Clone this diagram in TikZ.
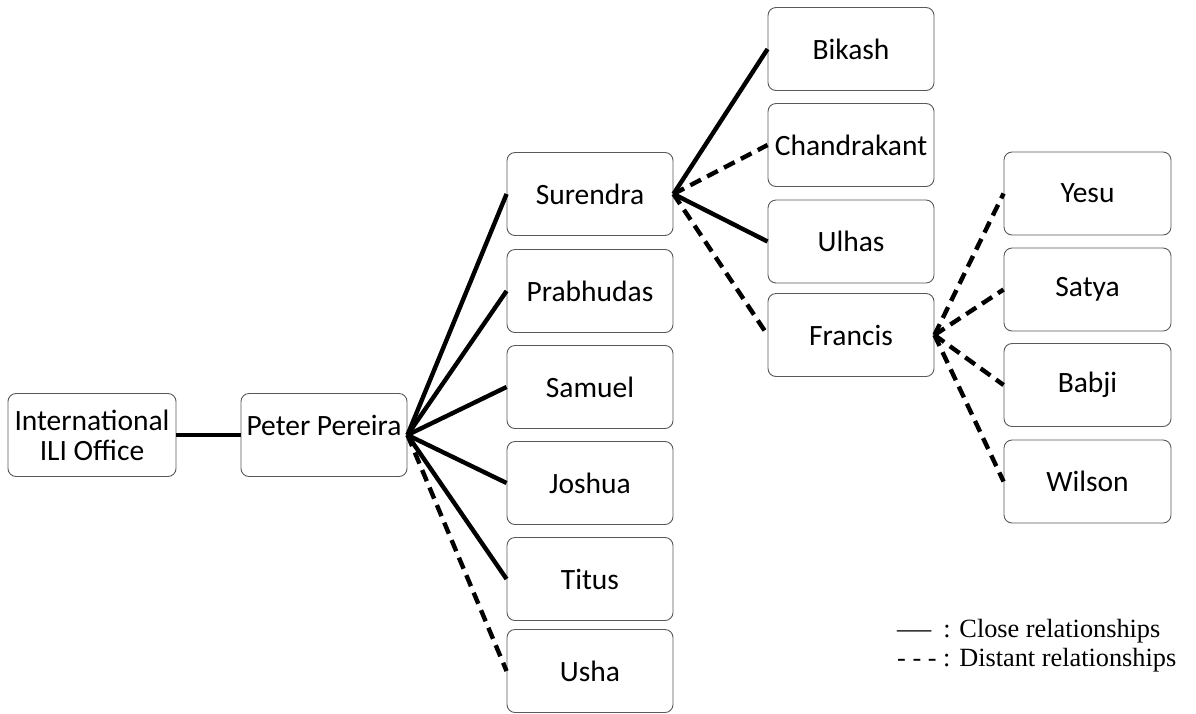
\documentclass[tikz,border=0pt]{standalone}
\usepackage{fontspec}
\usepackage{graphicx}
\setmainfont{Carlito}
\newfontfamily\legendfont{Liberation Serif}
\begin{document}
\begin{tikzpicture}[x=1pt,y=-1pt,
  person/.style={draw=black!65, line width=0.9pt, rounded corners=8pt,
    minimum width=166pt, minimum height=83pt, inner sep=0pt, align=center,
    font=\fontsize{29.5}{30}\selectfont},
  close/.style={line width=4.4pt},
  distant/.style={line width=4.4pt, dash pattern=on 12pt off 7pt},
  legendtext/.style={anchor=base west, inner sep=0pt,
    font=\legendfont\fontsize{26.3}{28}\selectfont}]
\useasboundingbox (0,0) rectangle (1196,713);

% root and leader
\node[person, minimum width=168pt] (ili) at (92,435) {International\\ILI Office};
\node[person] (peter) at (324,435) {\raisebox{10pt}[\height][\depth]{Peter Pereira}};

% second level
\node[person] (surendra)  at (590,194) {Surendra};
\node[person] (prabhudas) at (590,291) {Prabhudas};
\node[person] (samuel)    at (590,387) {Samuel};
\node[person] (joshua)    at (590,483) {Joshua};
\node[person] (titus)     at (590,579) {Titus};
\node[person] (usha)      at (590,671) {Usha};

% third level
\node[person] (bikash)      at (851,49)    {Bikash};
\node[person] (chandrakant) at (851,145)   {Chandrakant};
\node[person] (ulhas)       at (851,241.5) {Ulhas};
\node[person] (francis)     at (851,335)   {Francis};

% fourth level
\node[person, minimum width=167pt] (yesu)   at (1087.5,193.5) {Yesu};
\node[person, minimum width=167pt] (satya)  at (1087.5,289.5) {Satya};
\node[person, minimum width=167pt] (babji)  at (1087.5,385)   {Babji};
\node[person, minimum width=167pt] (wilson) at (1087.5,481.5) {Wilson};

% relationships
\draw[close]   (ili.east)   -- (peter.west);
\draw[close]   (peter.east) -- (surendra.west);
\draw[close]   (peter.east) -- (prabhudas.west);
\draw[close]   (peter.east) -- (samuel.west);
\draw[close]   (peter.east) -- (joshua.west);
\draw[close]   (peter.east) -- (titus.west);
\draw[distant] (peter.east) -- (usha.west);

\draw[close]   (surendra.east) -- (bikash.west);
\draw[distant] (surendra.east) -- (chandrakant.west);
\draw[close]   (surendra.east) -- (ulhas.west);
\draw[distant] (surendra.east) -- (francis.west);

\draw[distant] (francis.east) -- (yesu.west);
\draw[distant] (francis.east) -- (satya.west);
\draw[distant] (francis.east) -- (babji.west);
\draw[distant] (francis.east) -- (wilson.west);

% legend
\node[legendtext] (legclose) at (897,637) {\scalebox{1.3}[1]{—}\hspace{12pt}: Close relationships};
\node[legendtext] (legdist)  at (897,666) {- - - : Distant relationships};
\end{tikzpicture}
\end{document}
